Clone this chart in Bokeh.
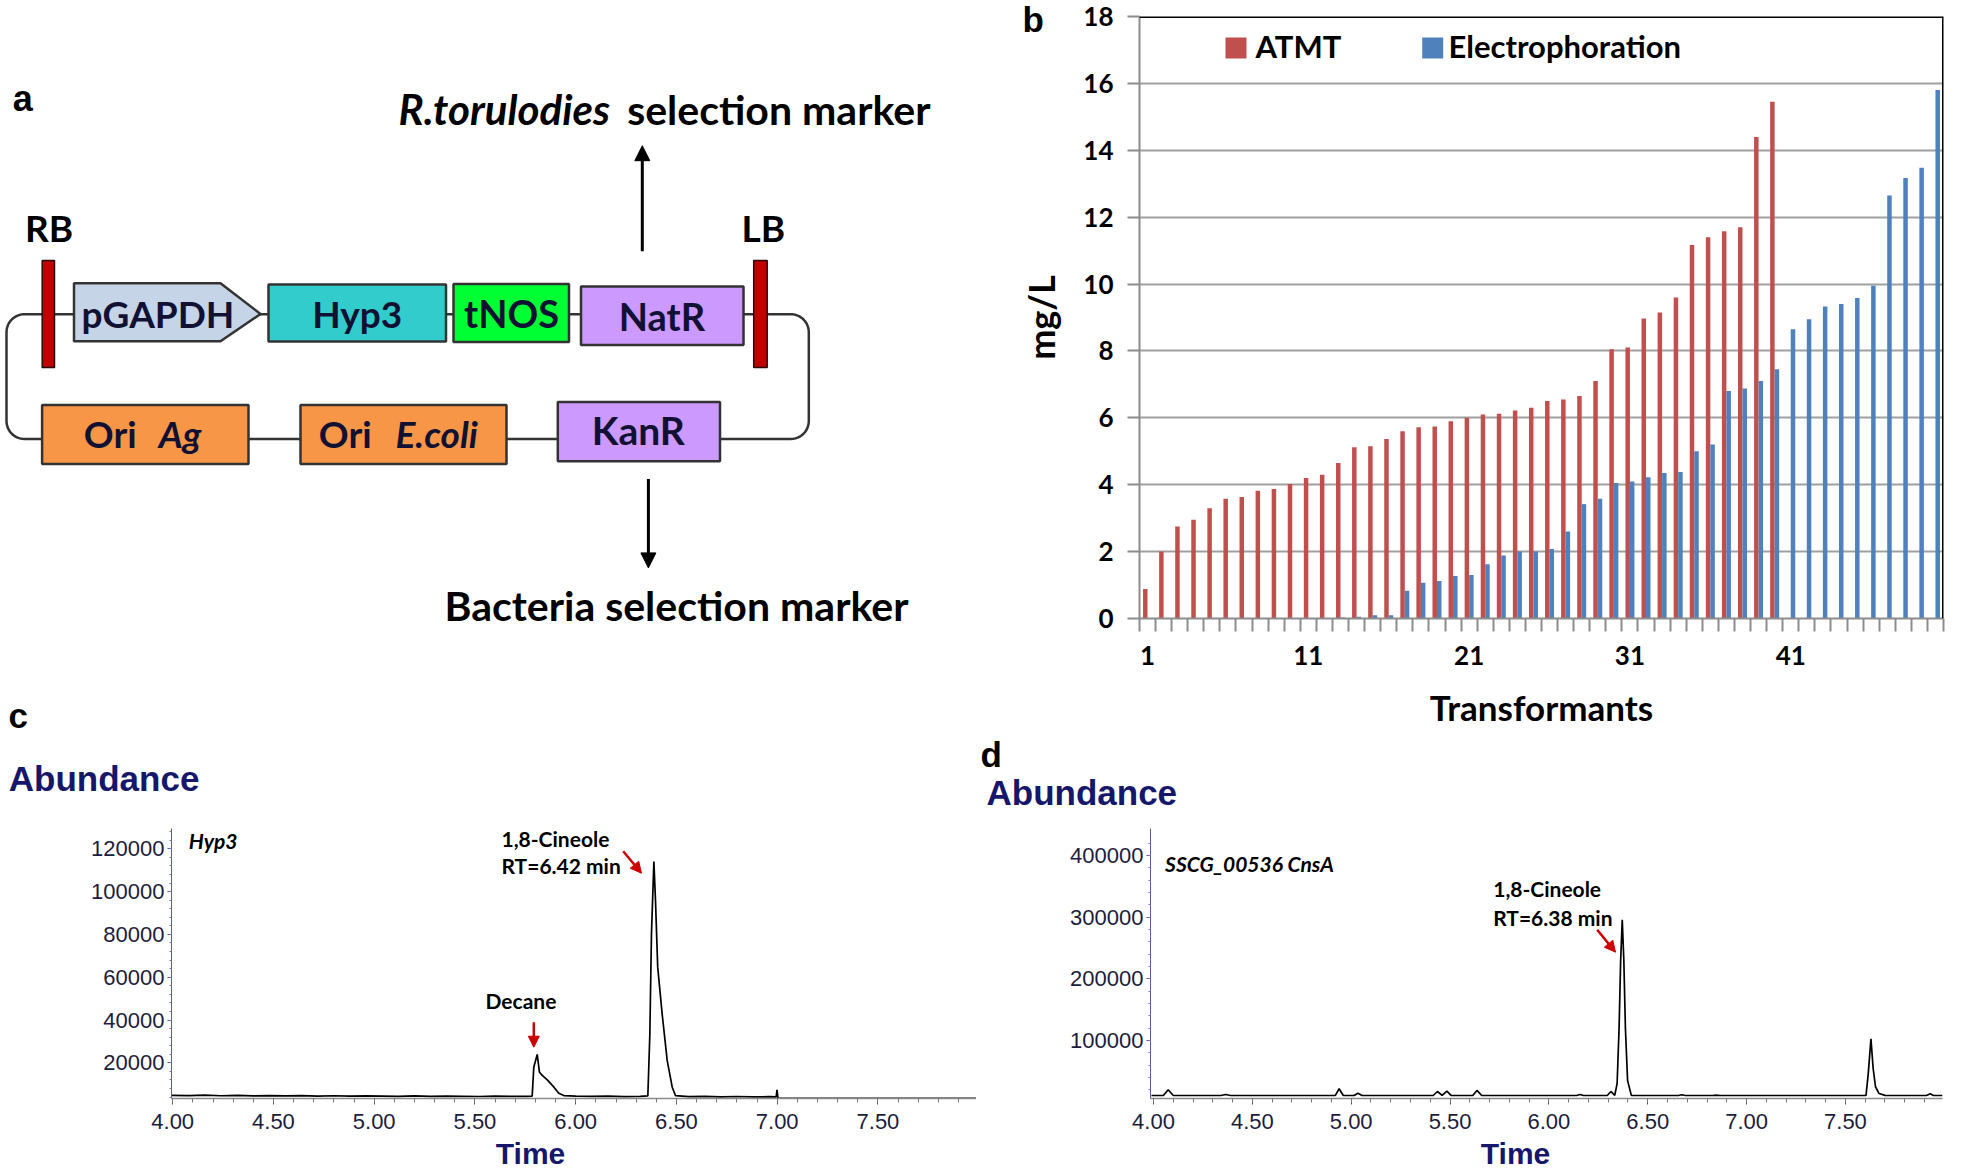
import math
from bokeh.plotting import figure
from bokeh.layouts import row, column
from bokeh.models import (Range1d, FixedTicker, NumeralTickFormatter, Label, Arrow,
                          NormalHead, Span, BoxAnnotation)
from bokeh.embed import file_html
from bokeh.resources import INLINE

# ---------------- panel b data ----------------
transformants = list(range(1, 51))
b_tick_labels = [1, 11, 21, 31, 41]
b_yticks = [0, 2, 4, 6, 8, 10, 12, 14, 16, 18]
atmt = [0.88, 2.0, 2.75, 2.95, 3.3, 3.58, 3.63, 3.82, 3.87, 4.02,
        4.2, 4.3, 4.65, 5.12, 5.15, 5.37, 5.6, 5.72, 5.74, 5.9,
        6.0, 6.1, 6.12, 6.22, 6.3, 6.5, 6.55, 6.65, 7.1, 8.05,
        8.1, 8.97, 9.15, 9.6, 11.17, 11.4, 11.58, 11.7, 14.4, 15.45]
electro = [0, 0, 0, 0, 0, 0, 0, 0, 0, 0,
           0, 0, 0.03, 0.05, 0.1, 0.1, 0.83, 1.07, 1.12, 1.27,
           1.3, 1.62, 1.88, 2.0, 2.0, 2.08, 2.6, 3.42, 3.58, 4.05,
           4.1, 4.22, 4.35, 4.38, 5.0, 5.2, 6.8, 6.88, 7.1, 7.45,
           8.65, 8.95, 9.33, 9.4, 9.58, 9.95, 12.65, 13.17, 13.48, 15.8]
series_names = ["ATMT", "Electrophoration"]
series_colors = ["#c0504d", "#4f81bd"]

# ---------------- panel c data (Hyp3 chromatogram) ----------------
c_time = [3.995, 4.08, 4.16, 4.24, 4.32, 4.40, 4.48, 4.56, 4.64, 4.72,
          4.80, 4.88, 4.96, 5.04, 5.12, 5.20, 5.28, 5.36, 5.44, 5.52,
          5.60, 5.68, 5.76, 5.784, 5.792, 5.809, 5.820, 5.834, 5.859, 5.892,
          5.916, 5.941, 6.00, 6.08, 6.16, 6.24, 6.32, 6.358, 6.368, 6.376,
          6.388, 6.396, 6.407, 6.429, 6.454, 6.479, 6.495, 6.56, 6.64, 6.72,
          6.80, 6.88, 6.96, 6.995, 6.999, 7.004, 7.010, 7.50, 7.989]
c_abund = [4800, 4650, 4900, 4600, 4750, 4550, 4700, 4500, 4650, 4450,
           4600, 4400, 4550, 4450, 4350, 4500, 4300, 4450, 4350, 4250,
           4400, 4300, 4350, 4450, 17900, 23900, 15600, 14100, 12000, 8600,
           5800, 4700, 4450, 4300, 4400, 4200, 4350, 4500, 33500, 80300,
           114100, 95800, 64700, 42900, 21100, 8600, 4700, 4200, 4300, 4100,
           4250, 4050, 4150, 4100, 7400, 3400, 3400, 3400, 3400]
c_yticks = [20000, 40000, 60000, 80000, 100000, 120000]

# ---------------- panel d data (SSCG_00536 CnsA chromatogram) ----------------
d_time = [3.99, 4.05, 4.074, 4.10, 4.34, 4.366, 4.39, 4.92, 4.939, 4.96,
          5.015, 5.034, 5.055, 5.415, 5.436, 5.46, 5.484, 5.505, 5.615, 5.636,
          5.66, 6.14, 6.158, 6.175, 6.295, 6.314, 6.333, 6.345, 6.355, 6.363,
          6.371, 6.379, 6.387, 6.398, 6.417, 6.655, 6.672, 6.69, 6.83, 6.846,
          6.865, 7.604, 7.615, 7.629, 7.640, 7.652, 7.670, 7.70, 7.91, 7.929,
          7.945, 7.991]
d_abund = [10800, 10900, 20100, 10900, 10800, 12500, 10800, 10900, 21700, 10900,
           10800, 14600, 10800, 10800, 17300, 11000, 17800, 10900, 10800, 19000,
           10800, 10800, 12500, 10800, 10800, 17300, 11000, 30000, 120000, 230000,
           295800, 230000, 120000, 35000, 11000, 10800, 12000, 10800, 10800, 11500,
           10800, 10900, 45000, 102800, 55000, 25000, 14000, 11000, 10800, 13500,
           10800, 10800]
d_yticks = [100000, 200000, 300000, 400000]
time_ticks = [4.0, 4.5, 5.0, 5.5, 6.0, 6.5, 7.0, 7.5]
time_minor = [round(4.0 + 0.1 * i, 1) for i in range(40)]

NAVY = "#16166b"
ARIAL = "Liberation Sans"
CAL = "Lato"


def mapper(fx0, fx1, fy0, fy1, x0, x1, y0, y1):
    """page-pixel -> data converters for a frame (used only to place annotations)"""
    def X(px):
        return x0 + (px - fx0) * (x1 - x0) / (fx1 - fx0)

    def Y(py):
        return y0 + (fy1 - py) * (y1 - y0) / (fy1 - fy0)
    return X, Y


def ident(v):
    return v


def lab(p, X, Y, px, py, text, size, font=CAL, style="bold", color="black",
        align="left", place=None):
    # px, py: wanted left/centre x and text baseline in page pixels.
    # Labels are rendered about 0.4 em lower than the given baseline, so lift them.
    lbl = Label(x=X(px), y=Y(py - 0.40 * size), text=text, text_font=font,
                text_font_size=f"{size}px", text_font_style=style,
                text_color=color, text_align=align, text_baseline="alphabetic")
    if place is None:
        p.add_layout(lbl)
    else:
        p.add_layout(lbl, place)


def red_arrow(p, xs, ys, xe, ye, size=11):
    p.add_layout(Arrow(x_start=xs, y_start=ys, x_end=xe, y_end=ye,
                       line_color="#cc0000", line_width=2.5,
                       end=NormalHead(size=size, fill_color="#cc0000",
                                      line_color="#cc0000", line_width=1)))


ROW1_TOP, ROW1_BOTTOM = 16, 118      # borders shared by panels a and b
ROW2_TOP, ROW2_BOTTOM = 92, 75       # borders shared by panels c and d

# =============== panel a (diagram, page-pixel coordinates) ===============
pa = figure(width=985, height=736, x_range=Range1d(0, 960), y_range=Range1d(618, 16),
            x_axis_location=None, y_axis_location=None, toolbar_location=None,
            output_backend="svg", min_border_left=0, min_border_right=25,
            min_border_top=ROW1_TOP, min_border_bottom=ROW1_BOTTOM)
pa.grid.visible = False
pa.outline_line_color = None

# backbone loop with rounded corners
lx0, lx1, ly0, ly1, rad = 6.0, 808.3, 313.7, 438.5, 18.0
loop_x, loop_y = [], []
corners = [(lx1 - rad, ly0 + rad, -90, 0), (lx1 - rad, ly1 - rad, 0, 90),
           (lx0 + rad, ly1 - rad, 90, 180), (lx0 + rad, ly0 + rad, 180, 270)]
for cx, cy, a0, a1 in corners:
    for k in range(13):
        ang = math.radians(a0 + (a1 - a0) * k / 12)
        loop_x.append(cx + rad * math.cos(ang))
        loop_y.append(cy + rad * math.sin(ang))
loop_x.append(loop_x[0])
loop_y.append(loop_y[0])
pa.line(loop_x, loop_y, line_color="#333333", line_width=2.5)

# pGAPDH promoter arrow shape
pa.patch([73.5, 220, 260, 220, 73.5], [282.7, 282.7, 313.5, 340.7, 340.7],
         fill_color="#c6d4e8", line_color="#333333", line_width=2.5)

box_left = [268, 453, 580.5, 41.6, 300, 557.3]
box_right = [445.5, 568.5, 743, 248, 506, 719.5]
box_top = [284, 283.5, 286, 404.5, 404.5, 401.5]
box_bottom = [341, 341.5, 344.5, 463.5, 463.5, 460.7]
box_fill = ["#33cccc", "#00ff33", "#cc99ff", "#f79646", "#f79646", "#cc99ff"]
pa.quad(left=box_left, right=box_right, top=box_top, bottom=box_bottom,
        fill_color=box_fill, line_color="#333333", line_width=2.5)

# border markers RB / LB
pa.quad(left=[41.7, 753.2], right=[54, 766.7], top=[260, 260], bottom=[367, 367],
        fill_color="#c00000", line_color="#2a0a0a", line_width=1.5)

TXT = "#111133"
A = (pa, ident, ident)
lab(*A, 157.5, 328, "pGAPDH", 37, color=TXT, align="center")
lab(*A, 356.7, 328, "Hyp3", 37, color=TXT, align="center")
lab(*A, 511, 328, "tNOS", 38, color=TXT, align="center")
lab(*A, 661.4, 331, "NatR", 38, color=TXT, align="center")
lab(*A, 83.3, 448, "Ori", 37, color=TXT)
lab(*A, 158.3, 448, "Ag", 37, style="bold italic", color=TXT)
lab(*A, 318.3, 448, "Ori", 37, color=TXT)
lab(*A, 395, 448, "E.coli", 37, style="bold italic", color=TXT)
lab(*A, 637.8, 445, "KanR", 39, color=TXT, align="center")
lab(*A, 24.5, 241.5, "RB", 37)
lab(*A, 741, 241.5, "LB", 37)
lab(*A, 12.2, 112.6, "a", 36, font=ARIAL)
lab(*A, 398, 125, "R.torulodies", 42, style="bold italic")
lab(*A, 626.7, 125, "selection marker", 41)
lab(*A, 444, 621, "Bacteria selection marker", 41, place="below")
lab(*A, 8, 728.5, "c", 35, font=ARIAL, place="right")

pa.add_layout(Arrow(x_start=641.8, y_start=250.7, x_end=641.8, y_end=145.2,
                    line_color="black", line_width=3,
                    end=NormalHead(size=15, fill_color="black", line_color="black")))
pa.add_layout(Arrow(x_start=647.9, y_start=478.5, x_end=647.9, y_end=567.4,
                    line_color="black", line_width=3,
                    end=NormalHead(size=15, fill_color="black", line_color="black")))

# =============== panel b (bar chart) ===============
pb = figure(width=976, height=736, x_range=Range1d(0.5, 50.5), y_range=Range1d(0, 18),
            toolbar_location=None, output_backend="svg",
            min_border_left=154, min_border_right=18,
            min_border_top=ROW1_TOP, min_border_bottom=ROW1_BOTTOM)
pb.outline_line_color = None
Xb, Yb = mapper(1139, 1943, 16, 618, 0.5, 50.5, 0, 18)
B = (pb, Xb, Yb)

off = 0.14
bw = 0.28
pb.vbar(x=[t - off for t in transformants[:len(atmt)]], top=atmt, width=bw,
        fill_color=series_colors[0], line_color=None)
pb.vbar(x=[t + off for t in transformants], top=electro, width=bw,
        fill_color=series_colors[1], line_color=None)

pb.xgrid.visible = False
pb.ygrid.ticker = FixedTicker(ticks=b_yticks)
pb.ygrid.grid_line_color = "#a0a0a0"
pb.ygrid.grid_line_width = 2

pb.xaxis.ticker = FixedTicker(ticks=b_tick_labels,
                              minor_ticks=[t - 0.5 for t in transformants] + [50.5])
pb.xaxis.major_tick_out = 0
pb.xaxis.major_tick_in = 0
pb.xaxis.minor_tick_out = 13
pb.xaxis.minor_tick_in = 0
pb.xaxis.minor_tick_line_color = "#8c8c8c"
pb.xaxis.minor_tick_line_width = 2
pb.xaxis.major_label_standoff = 14
pb.xaxis.axis_label = "Transformants"
pb.xaxis.axis_label_standoff = 18
pb.xaxis.axis_label_text_font_size = "35px"
pb.yaxis.ticker = FixedTicker(ticks=b_yticks)
pb.yaxis.minor_tick_line_color = None
pb.yaxis.major_tick_out = 12
pb.yaxis.major_tick_in = 0
pb.yaxis.major_tick_line_color = "#8c8c8c"
pb.yaxis.major_tick_line_width = 2
pb.yaxis.major_label_standoff = 14
pb.yaxis.axis_label = "mg/L"
pb.yaxis.axis_label_standoff = 17
pb.yaxis.axis_label_text_font_size = "36px"
for ax in (pb.xaxis, pb.yaxis):
    ax.axis_line_color = "#8c8c8c"
    ax.axis_line_width = 2
    ax.major_label_text_font = CAL
    ax.major_label_text_font_style = "bold"
    ax.major_label_text_font_size = "26px"
    ax.major_label_text_color = "black"
    ax.axis_label_text_font = CAL
    ax.axis_label_text_font_style = "bold"
    ax.axis_label_text_color = "black"

pb.add_layout(Span(location=18, dimension="width", line_color="black", line_width=3))
pb.add_layout(Span(location=50.5, dimension="height", line_color="black", line_width=3))

# legend
leg_left = [1225, 1421.7]
leg_text_x = [1255, 1448]
for i in range(2):
    pb.add_layout(BoxAnnotation(left=Xb(leg_left[i]), right=Xb(leg_left[i] + 21),
                                top=Yb(37), bottom=Yb(58), fill_color=series_colors[i],
                                fill_alpha=1.0, line_color=None))
    lab(*B, leg_text_x[i], 57.5, series_names[i], 31)

lab(*B, 1022, 33.3, "b", 35, font=ARIAL, place="left")

# =============== panel c (chromatogram Hyp3) ===============
cx0, cx1, cy0, cy1 = 3.99404, 7.98908, 3317, 129489
pc = figure(width=976, height=437, x_range=Range1d(cx0, cx1), y_range=Range1d(cy0, cy1),
            toolbar_location=None, output_backend="svg",
            min_border_left=171, min_border_right=0,
            min_border_top=ROW2_TOP, min_border_bottom=ROW2_BOTTOM)
Xc, Yc = mapper(171, 976, 828, 1098, cx0, cx1, cy0, cy1)
C = (pc, Xc, Yc)

# =============== panel d (chromatogram CnsA) ===============
dx0, dx1, dy0, dy1 = 3.98483, 7.99090, 5953, 443758
pd_ = figure(width=985, height=437, x_range=Range1d(dx0, dx1), y_range=Range1d(dy0, dy1),
             toolbar_location=None, output_backend="svg",
             min_border_left=174, min_border_right=19,
             min_border_top=ROW2_TOP, min_border_bottom=ROW2_BOTTOM)
Xd, Yd = mapper(1150, 1942, 828, 1098, dx0, dx1, dy0, dy1)
D = (pd_, Xd, Yd)

for p, yt, ymin in ((pc, c_yticks, 4000), (pd_, d_yticks, 20000)):
    p.grid.visible = False
    p.outline_line_color = None
    p.xaxis.ticker = FixedTicker(ticks=time_ticks, minor_ticks=time_minor)
    p.xaxis.formatter = NumeralTickFormatter(format="0.00")
    p.xaxis.axis_line_color = "#8a8a8a"
    p.xaxis.axis_line_width = 1.5
    p.xaxis.major_tick_out = 6
    p.xaxis.major_tick_in = 0
    p.xaxis.minor_tick_out = 4
    p.xaxis.minor_tick_in = 0
    p.xaxis.major_tick_line_color = "#555555"
    p.xaxis.minor_tick_line_color = "#777777"
    p.xaxis.major_label_standoff = 9
    p.yaxis.ticker = FixedTicker(ticks=yt,
                                 minor_ticks=[ymin * k for k in range(1, int(yt[-1] * 1.1 / ymin))])
    p.yaxis.formatter = NumeralTickFormatter(format="0")
    p.yaxis.axis_line_color = "#5a5aa0"
    p.yaxis.axis_line_width = 1
    p.yaxis.major_tick_out = 4
    p.yaxis.major_tick_in = 0
    p.yaxis.minor_tick_out = 2
    p.yaxis.minor_tick_in = 0
    p.yaxis.major_tick_line_color = "#5a5aa0"
    p.yaxis.minor_tick_line_color = "#7a7ab0"
    p.yaxis.major_label_standoff = 3
    for ax in (p.xaxis, p.yaxis):
        ax.major_label_text_font = ARIAL
        ax.major_label_text_font_style = "normal"
        ax.major_label_text_font_size = "22px"
        ax.major_label_text_color = "#1c1c3c"

pc.line(c_time, c_abund, line_color="black", line_width=1.7)
pd_.line(d_time, d_abund, line_color="black", line_width=1.7)

# panel c annotations
lab(*C, 8.3, 791.7, "Abundance", 35, font=ARIAL, color=NAVY, place="above")
lab(*C, 530, 1165, "Time", 30, font=ARIAL, color=NAVY, align="center", place="above")
lab(*C, 188.3, 848, "Hyp3", 21, style="bold italic")
lab(*C, 485, 1008.3, "Decane", 21)
lab(*C, 501, 846.7, "1,8-Cineole", 21)
lab(*C, 501, 873.3, "RT=6.42 min", 21)
red_arrow(pc, Xc(533.3), Yc(1021.7), Xc(533.3), Yc(1046.7))
red_arrow(pc, Xc(622.7), Yc(850.7), Xc(641), Yc(872.7))

# panel d annotations
lab(*D, 980, 768, "d", 35, font=ARIAL, place="left")
lab(*D, 986, 806, "Abundance", 35, font=ARIAL, color=NAVY, place="above")
lab(*D, 1515, 1165, "Time", 30, font=ARIAL, color=NAVY, align="center", place="above")
lab(*D, 1164.6, 871.7, "SSCG_00536 CnsA", 21, style="bold italic")
lab(*D, 1492.7, 896.7, "1,8-Cineole", 21)
lab(*D, 1492.7, 925, "RT=6.38 min", 21)
red_arrow(pd_, Xd(1596.7), Yd(929.3), Xd(1615), Yd(951.7))

layout = column(row(pa, pb), row(pc, pd_))
open("out.html", "w").write(file_html(layout, INLINE))
